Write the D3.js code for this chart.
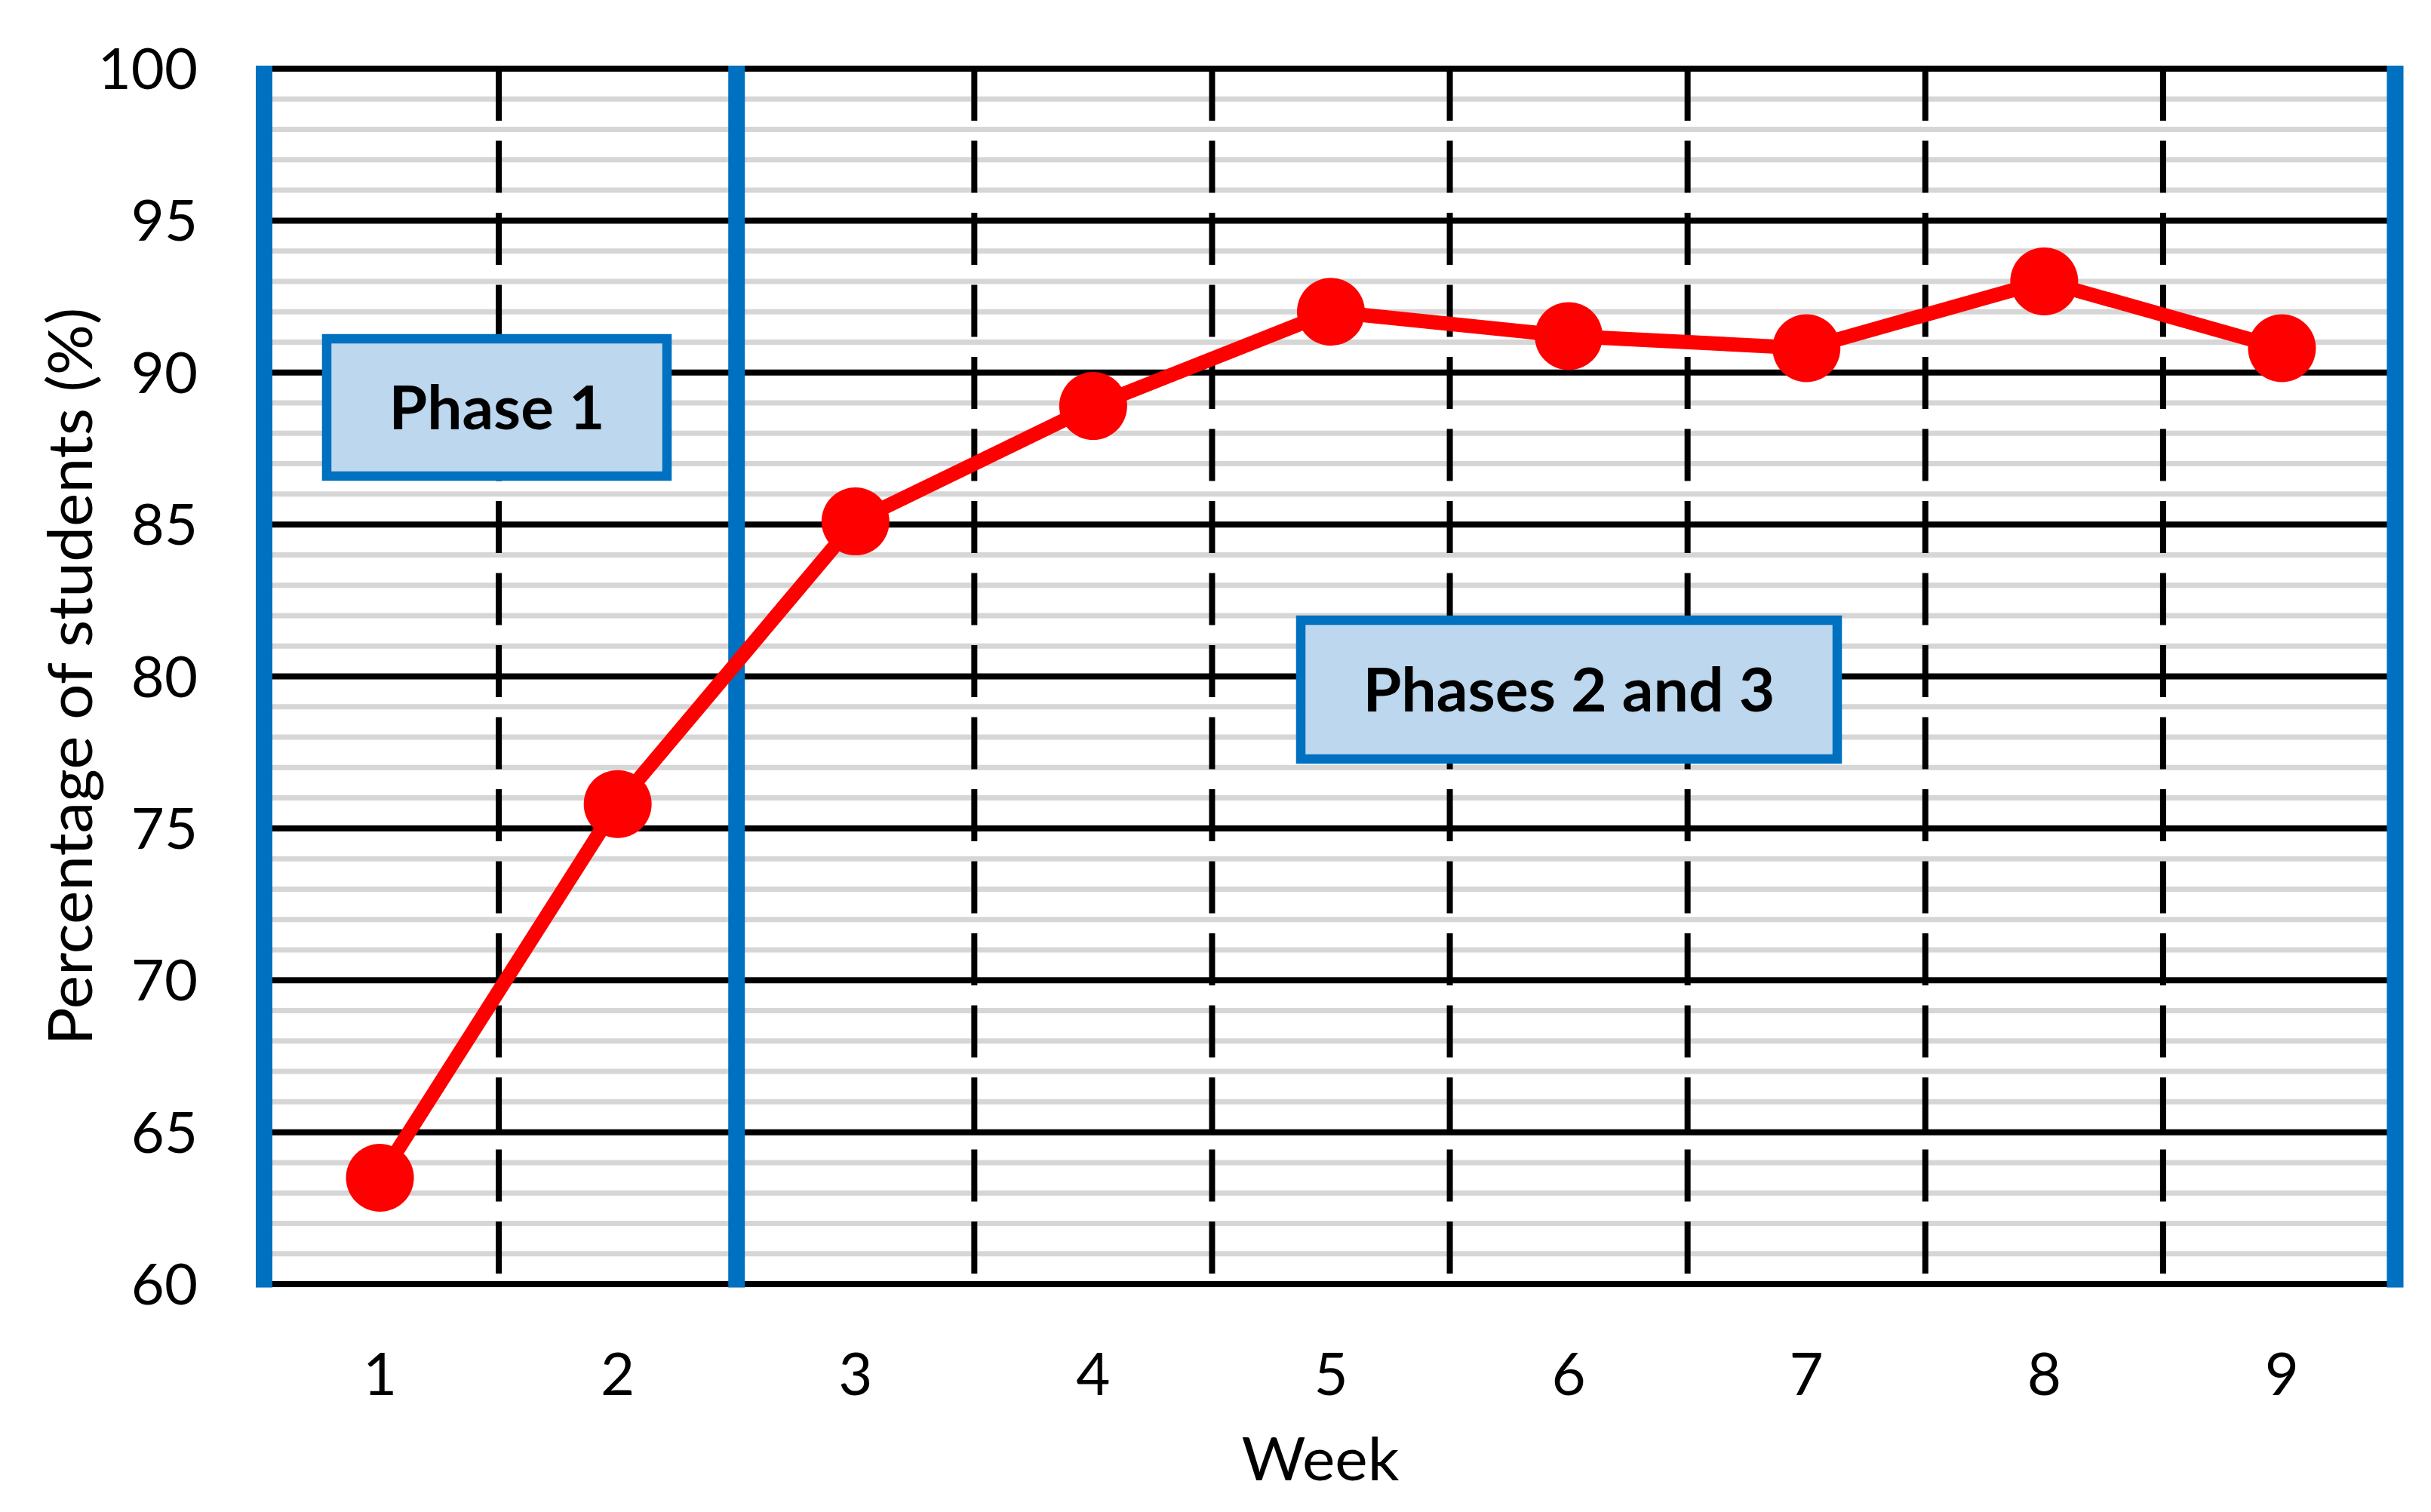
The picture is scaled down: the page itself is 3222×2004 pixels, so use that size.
<!DOCTYPE html>
<html><head><meta charset="utf-8">
<script src="https://cdn.jsdelivr.net/npm/d3@7"></script>
<style>html,body{margin:0;padding:0;background:#fff;} svg{display:block;}</style>
</head><body>
<script>
// ---- data ----
const weeks = ["1","2","3","4","5","6","7","8","9"];
const percentages = [63.5, 75.8, 85.1, 88.9, 92.0, 91.2, 90.8, 93.0, 90.8];
const yTicks = [60, 65, 70, 75, 80, 85, 90, 95, 100];
const phaseLabels = ["Phase 1", "Phases 2 and 3"];
const phaseBoundaryWeek = "3"; // phase 2 starts at week 3
const xTitle = "Week";
const yTitle = "Percentage of students (%)";

// ---- layout ----
const W = 3222, H = 2004;
const FONT = "Lato, 'Open Sans', sans-serif";
const svg = d3.select("body").append("svg").attr("width", W).attr("height", H);
svg.append("rect").attr("width", W).attr("height", H).attr("fill", "#fff");

const x = d3.scaleBand().domain(weeks).range([346, 3182]).padding(0);
const y = d3.scaleLinear().domain([60, 100]).range([1702, 91]);
const cx = d => x(d) + x.bandwidth() / 2;
const xL = x.range()[0], xR = x.range()[1];
const blueLeft = xL + 4, blueRight = xR - 7.5;

const grid = svg.append("g");
// minor gridlines (each unit)
const minor = d3.range(y.domain()[0] + 1, y.domain()[1]).filter(v => v % 5 !== 0);
grid.selectAll(".minor").data(minor).join("line")
  .attr("x1", blueLeft).attr("x2", blueRight)
  .attr("y1", d => y(d)).attr("y2", d => y(d))
  .attr("stroke", "#d6d6d6").attr("stroke-width", 7);
// major gridlines
grid.selectAll(".major").data(yTicks).join("line")
  .attr("x1", blueLeft).attr("x2", blueRight)
  .attr("y1", d => y(d)).attr("y2", d => y(d))
  .attr("stroke", "#000").attr("stroke-width", 8);
// dashed vertical separators between weeks
const boundaries = weeks.slice(1).filter(w => w !== phaseBoundaryWeek);
grid.selectAll(".vdash").data(boundaries).join("line")
  .attr("x1", d => x(d)).attr("x2", d => x(d))
  .attr("y1", y(100)).attr("y2", y(60))
  .attr("stroke", "#000").attr("stroke-width", 8)
  .attr("stroke-dasharray", "69,26.5");
// blue phase lines
const bluePos = [blueLeft, x(phaseBoundaryWeek), blueRight];
grid.selectAll(".blue").data(bluePos).join("line")
  .attr("x1", d => d).attr("x2", d => d)
  .attr("y1", y(100) - 4).attr("y2", y(60) + 4.5)
  .attr("stroke", "#0070C0").attr("stroke-width", 22);

// phase boxes
const boxes = [
  {label: phaseLabels[0], x: 433, y: 449, w: 451, h: 182, tl: 286},
  {label: phaseLabels[1], x: 1724, y: 822, w: 711, h: 184, tl: 546}
];
const bg = svg.append("g").selectAll("g").data(boxes).join("g");
bg.append("rect").attr("x", d => d.x).attr("y", d => d.y).attr("width", d => d.w).attr("height", d => d.h)
  .attr("fill", "#BDD7EE").attr("stroke", "#0070C0").attr("stroke-width", 12.5);
bg.append("text").attr("x", d => d.x + d.w / 2).attr("y", d => d.y + d.h / 2 + 29)
  .attr("text-anchor", "middle").attr("font-family", FONT).attr("font-weight", "bold")
  .attr("font-size", 81).attr("fill", "#000")
  .attr("textLength", d => d.tl).attr("lengthAdjust", "spacingAndGlyphs")
  .text(d => d.label);

// series line
const pts = weeks.map((w, i) => ({w, v: percentages[i]}));
svg.append("path").datum(pts)
  .attr("d", d3.line().x(d => cx(d.w)).y(d => y(d.v)))
  .attr("fill", "none").attr("stroke", "#FF0000").attr("stroke-width", 19)
  .attr("stroke-linejoin", "round");
svg.append("g").selectAll("circle").data(pts).join("circle")
  .attr("cx", d => cx(d.w)).attr("cy", d => y(d.v)).attr("r", 45)
  .attr("fill", "#FF0000");

// axes
const gy = svg.append("g").attr("transform", "translate(262,0)")
  .call(d3.axisLeft(y).tickValues(yTicks).tickSize(0).tickPadding(0).tickFormat(d3.format("d")));
gy.select(".domain").remove();
gy.selectAll("text").attr("font-family", FONT).attr("font-size", 76).attr("fill", "#000").attr("dy", "0.35em");

const gx = svg.append("g").attr("transform", "translate(0,1849)")
  .call(d3.axisBottom(x).tickSize(0).tickPadding(0));
gx.select(".domain").remove();
gx.selectAll("text").attr("font-family", FONT).attr("font-size", 78).attr("fill", "#000").attr("dy", 0);

// titles
svg.append("text").attr("x", 1750).attr("y", 1962).attr("text-anchor", "middle")
  .attr("font-family", FONT).attr("font-size", 80).attr("fill", "#000")
  .attr("textLength", 209).attr("lengthAdjust", "spacingAndGlyphs").text(xTitle);
svg.append("text").attr("transform", `translate(122,${(y(60) + y(100)) / 2}) rotate(-90)`)
  .attr("text-anchor", "middle").attr("font-family", FONT).attr("font-size", 82).attr("fill", "#000")
  .attr("textLength", 978).attr("lengthAdjust", "spacingAndGlyphs").text(yTitle);
</script>
</body></html>
